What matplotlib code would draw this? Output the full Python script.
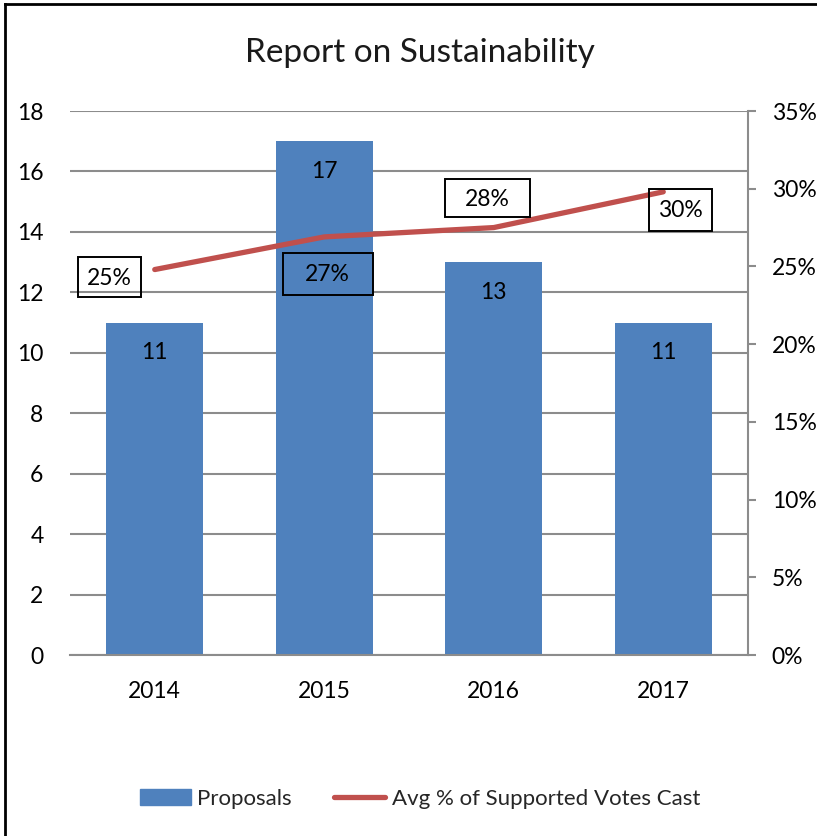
import matplotlib
matplotlib.use("Agg")
import matplotlib.pyplot as plt
import matplotlib.transforms as mtransforms
from matplotlib.patches import Rectangle
from matplotlib.lines import Line2D
from matplotlib.ticker import FuncFormatter, MultipleLocator

years = ["2014", "2015", "2016", "2017"]
proposals = [11, 17, 13, 11]
avg_support = [0.248, 0.269, 0.275, 0.298]
support_labels = ["25%", "27%", "28%", "30%"]

title = "Report on Sustainability"
bar_name = "Proposals"
line_name = "Avg % of Supported Votes Cast"

BLUE = "#4F81BD"
RED = "#C0504D"
GRID = "#8C8C8C"
FONT = ["Lato", "DejaVu Sans"]

# label box placement (pixels relative to the data point) and box sizes (pixels)
label_offsets = [(-45, -7.5), (3.5, -37), (-6.5, 29.5), (17.5, -18)]
label_boxes = [(63, 40), (90, 42), (85, 38), (63, 42)]

plt.rcParams["font.family"] = FONT

fig = plt.figure(figsize=(8.17, 8.36), dpi=100)
ax = fig.add_axes([70/817, 1-655/836, (748-70)/817, (655-111)/836])
x = list(range(len(years)))
ax.bar(x, proposals, width=0.57, color=BLUE, zorder=2)
ax.set_xlim(-0.5, len(years) - 0.5)
ax.set_ylim(0, 18)
ax.yaxis.set_major_locator(MultipleLocator(2))
ax.grid(axis="y", color=GRID, linewidth=1.5, zorder=0)
ax.set_axisbelow(True)
for s in ["top", "left", "right"]:
    ax.spines[s].set_visible(False)
ax.spines["bottom"].set_color(GRID)
ax.spines["bottom"].set_linewidth(1.5)
ax.set_xticks(x)
ax.set_xticklabels(years)
ax.tick_params(axis="x", length=0, pad=19, labelsize=16.5, labelcolor="black")
ax.tick_params(axis="y", length=0, pad=19, labelsize=16.5, labelcolor="black")

for xi, v in zip(x, proposals):
    ax.annotate(str(v), (xi, v), xytext=(0, -30), textcoords="offset pixels",
                ha="center", va="center", fontsize=16.5, color="black", zorder=5)

ax2 = ax.twinx()
ax2.set_ylim(0, 0.35)
ax2.yaxis.set_major_locator(MultipleLocator(0.05))
ax2.yaxis.set_major_formatter(FuncFormatter(lambda v, p: f"{v*100:.0f}%"))
for s in ["top", "left", "bottom"]:
    ax2.spines[s].set_visible(False)
ax2.spines["right"].set_color(GRID)
ax2.spines["right"].set_linewidth(1.5)
ax2.tick_params(axis="y", direction="out", length=6, width=1.5, color=GRID,
                pad=11, labelsize=16.5, labelcolor="black")
ax2.plot(x, avg_support, color=RED, linewidth=3.8, solid_capstyle="round", zorder=4)

for xi, v, t, off, box in zip(x, avg_support, support_labels, label_offsets, label_boxes):
    tr = mtransforms.ScaledTranslation(xi, v, ax2.transData)
    w, h = box
    ax2.add_artist(Rectangle((off[0] - w/2, off[1] - h/2), w, h, transform=tr,
                             fill=False, ec="black", lw=1.4, zorder=6))
    ax2.annotate(t, (xi, v), xytext=(off[0], off[1] - 1), textcoords="offset pixels",
                 ha="center", va="center", fontsize=16.5, color="black", zorder=6)

fig.text(0.514, 1-53/836, title, ha="center", va="center", fontsize=24,
         fontweight="normal", color="#1a1a1a")

handles = [Rectangle((0, 0), 1, 1, color=BLUE),
           Line2D([0], [0], color=RED, linewidth=3.8, solid_capstyle="round")]
fig.legend(handles, [bar_name, line_name], loc="center",
           bbox_to_anchor=(0.514, 1-799/836), ncol=2, frameon=False,
           handlelength=2.3, handletextpad=0.3, columnspacing=1.9,
           prop=dict(family=FONT, weight="normal", size=16), labelcolor="#262626")

# chart border (left and top edges visible; image is cropped on right/bottom)
fig.add_artist(Line2D([5/817, 5/817], [0, 1-4/836], color="black", lw=2,
                      transform=fig.transFigure))
fig.add_artist(Line2D([5/817, 1], [1-4/836, 1-4/836], color="black", lw=2,
                      transform=fig.transFigure))

fig.savefig("out.png", dpi=100)
